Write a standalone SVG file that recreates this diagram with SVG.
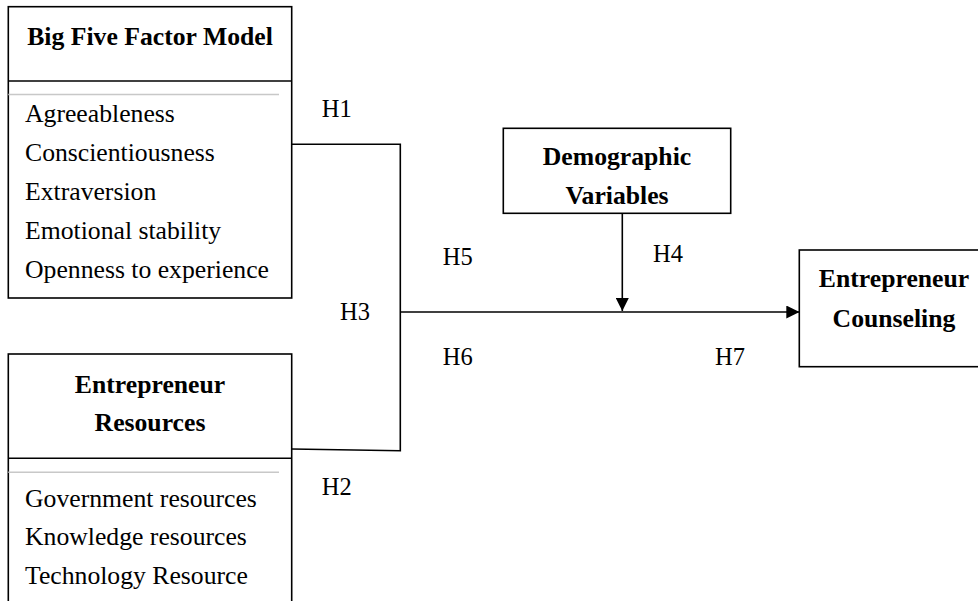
<svg xmlns="http://www.w3.org/2000/svg" width="978" height="601" viewBox="0 0 978 601">
<style>
.box{fill:#fff;stroke:#000;stroke-width:1.6}
.sep{stroke:#000;stroke-width:1.6}
.gray{stroke:#c8c8c8;stroke-width:1.6}
.t{font-family:"Liberation Serif","Times New Roman",serif;font-size:25.7px;fill:#000}
.b{font-family:"Liberation Serif","Times New Roman",serif;font-size:25.7px;font-weight:bold;fill:#000}
.h{font-family:"Liberation Serif","Times New Roman",serif;font-size:24.5px;fill:#000}
.wire{fill:none;stroke:#000;stroke-width:1.6}
</style>
<defs>
<marker id="ah" viewBox="0 0 10 10" refX="10" refY="5" markerWidth="13" markerHeight="13" markerUnits="userSpaceOnUse" orient="auto">
<path d="M0,0 L10,5 L0,10 Z" fill="#000"/>
</marker>
</defs>
<g id="big-five">
<rect class="box" x="8.3" y="6.7" width="283.4" height="291.3"/>
<line class="sep" x1="8.3" y1="81" x2="291.7" y2="81"/>
<line class="gray" x1="8.3" y1="94.5" x2="279" y2="94.5"/>
<text class="b" x="150" y="45" text-anchor="middle">Big Five Factor Model</text>
<text class="t" x="25" y="122">Agreeableness</text>
<text class="t" x="25" y="161">Conscientiousness</text>
<text class="t" x="25" y="200">Extraversion</text>
<text class="t" x="25" y="239">Emotional stability</text>
<text class="t" x="25" y="278">Openness to experience</text>
</g>
<g id="resources">
<rect class="box" x="8.3" y="354" width="283.4" height="260"/>
<line class="sep" x1="8.3" y1="458.3" x2="291.7" y2="458.3"/>
<line class="gray" x1="8.3" y1="472.3" x2="279" y2="472.3"/>
<text class="b" x="150" y="393" text-anchor="middle">Entrepreneur</text>
<text class="b" x="150" y="431" text-anchor="middle">Resources</text>
<text class="t" x="25" y="507">Government resources</text>
<text class="t" x="25" y="545">Knowledge resources</text>
<text class="t" x="25" y="584">Technology Resource</text>
</g>
<g id="demographic">
<rect class="box" x="503.3" y="128.3" width="227.4" height="85"/>
<text class="b" x="617" y="165" text-anchor="middle">Demographic</text>
<text class="b" x="617" y="204" text-anchor="middle">Variables</text>
</g>
<g id="counseling">
<rect class="box" x="799.3" y="250" width="200" height="116.7"/>
<text class="b" x="894" y="287" text-anchor="middle">Entrepreneur</text>
<text class="b" x="894" y="327" text-anchor="middle">Counseling</text>
</g>
<g id="connectors">
<polyline class="wire" points="291.7,144.3 400.3,144.3 400.3,450.7 291.7,449"/>
<line class="wire" x1="400.3" y1="312" x2="799.3" y2="312" marker-end="url(#ah)"/>
<line class="wire" x1="622.3" y1="213.3" x2="622.3" y2="311" marker-end="url(#ah)"/>
</g>
<g id="labels">
<text class="h" x="321.7" y="117.3">H1</text>
<text class="h" x="321.7" y="495">H2</text>
<text class="h" x="340" y="320">H3</text>
<text class="h" x="653" y="261.7">H4</text>
<text class="h" x="442.7" y="265">H5</text>
<text class="h" x="442.7" y="365">H6</text>
<text class="h" x="715" y="365">H7</text>
</g>
</svg>
